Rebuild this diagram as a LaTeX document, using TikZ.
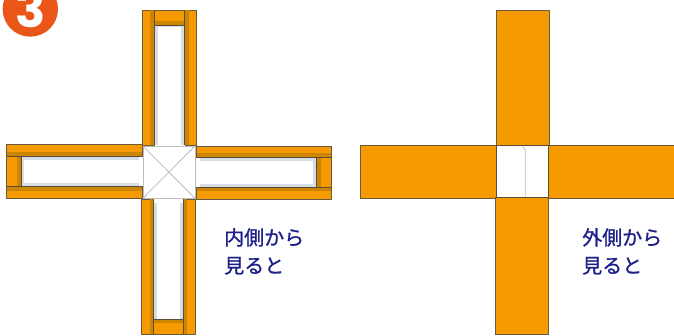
\documentclass[tikz,border=0pt]{standalone}
\usepackage{fontspec}
\newfontfamily\cjk[FakeBold=1]{Noto Sans CJK JP}
\newfontfamily\badgefont{Poppins}
\definecolor{wood}{HTML}{F59A00}
\definecolor{wooddark}{HTML}{CC8500}
\definecolor{edge}{HTML}{6A5A42}
\definecolor{shade}{HTML}{D5DEE5}
\definecolor{thin}{HTML}{BDBDBD}
\definecolor{badge}{HTML}{EA5518}
\definecolor{ink}{HTML}{1D2088}
\tikzset{
  woodpart/.style={fill=wood,draw=edge,line width=0.8pt},
  darkpart/.style={fill=wooddark,draw=none},
  shadepart/.style={fill=shade,draw=none},
  partline/.style={draw=edge!85!black,line width=0.7pt},
  thinline/.style={draw=thin,line width=0.8pt},
  caption/.style={text=ink,font=\cjk\fontsize{20}{28}\selectfont,align=left,anchor=north west,inner sep=0pt},
}
\begin{document}
\begin{tikzpicture}[x=1pt,y=-1pt]
\useasboundingbox (0,0) rectangle (674,336);
\begin{scope}
\clip (0,0) rectangle (674,336);
% badge
\fill[badge] (30.3,9) circle (27.7);
\node[text=white,font=\badgefont\bfseries\fontsize{50}{50}\selectfont,inner sep=0pt,draw=none] (badgeno) at (31,9) {3};

% ---- left cross: top arm
\fill[woodpart] (142.7,10) rectangle (196.7,145.5);
\fill[white] (154.5,25) rectangle (184.5,146);
\fill[shadepart] (154.5,25) rectangle (158,145);
\fill[shadepart] (180.5,25) rectangle (184.5,145);
\fill[shadepart] (154.5,25) rectangle (184.5,27);
\fill[darkpart] (150,10.5) rectangle (154.5,145);
\fill[darkpart] (184.5,10.5) rectangle (188.5,145);
\fill[darkpart] (154.5,21) rectangle (184.5,25);
\draw[partline] (154.5,10) -- (154.5,145.5);
\draw[partline] (184.5,10) -- (184.5,145.5);
\draw[partline] (154.5,25) -- (184.5,25);

% right arm
\fill[woodpart] (196,146) rectangle (331.7,199.3);
\fill[white] (196,157.3) rectangle (316.7,187.7);
\fill[shadepart] (200,157.3) rectangle (316.7,160.7);
\fill[shadepart] (200,184) rectangle (316.7,187.7);
\fill[shadepart] (312.7,157.3) rectangle (316.7,187.7);
\fill[darkpart] (196.5,153.3) rectangle (331.2,157.3);
\fill[darkpart] (196.5,187.7) rectangle (331.2,191.5);
\fill[darkpart] (316.7,157.3) rectangle (321,187.7);
\draw[partline] (196,157.3) -- (331.7,157.3);
\draw[partline] (196,187.7) -- (331.7,187.7);
\draw[partline] (316.7,157.3) -- (316.7,187.7);

% left arm
\fill[woodpart] (6.7,144.5) rectangle (142.5,198.3);
\fill[white] (21.7,156) rectangle (143,186.7);
\fill[shadepart] (21.7,156) rectangle (139,160.3);
\fill[shadepart] (21.7,183) rectangle (139,186.7);
\fill[shadepart] (21.7,156) rectangle (24,186.7);
\fill[darkpart] (7.2,152) rectangle (142,156);
\fill[darkpart] (7.2,186.7) rectangle (142,190.7);
\fill[darkpart] (17,156) rectangle (21.7,186.7);
\draw[partline] (6.7,156) -- (142.5,156);
\draw[partline] (6.7,186.7) -- (142.5,186.7);
\draw[partline] (21.7,156) -- (21.7,186.7);

% bottom arm
\fill[woodpart] (141.7,199) rectangle (195.3,334.3);
\fill[white] (153.3,198) rectangle (183.3,319.3);
\fill[shadepart] (153.8,203) rectangle (157.3,319.3);
\fill[shadepart] (180,203) rectangle (183.3,319.3);
\fill[darkpart] (150,199.5) rectangle (153.3,334);
\fill[darkpart] (183.3,199.5) rectangle (187.3,334);
\fill[darkpart] (153.3,319.3) rectangle (183.3,323.3);
\draw[partline] (153.3,199) -- (153.3,334.3);
\draw[partline] (183.3,199) -- (183.3,334.3);
\draw[partline] (153.3,319.3) -- (183.3,319.3);

% centre post
\draw[thinline,fill=white] (142.9,146) rectangle (195,198.3);
\draw[thinline] (142.9,146) -- (195,198.3);
\draw[thinline] (195,146) -- (142.9,198.3);

% ---- right cross
\fill[woodpart] (496,10) rectangle (549.3,145.7);
\fill[woodpart] (360,145.5) rectangle (496.7,198.5);
\fill[woodpart] (548.3,145.5) rectangle (680,198.5);
\fill[woodpart] (495.7,197.5) rectangle (548.5,334);
\draw[partline,fill=white] (496.7,145.7) rectangle (548.3,197.5);
\draw[thinline] (522.7,146.5) -- (525.3,150) -- (525.3,197);
\end{scope}

\node[caption] (capin) at (224,228) {内側から\\見ると};
\node[caption] (capout) at (582,228) {外側から\\見ると};
\end{tikzpicture}
\end{document}
